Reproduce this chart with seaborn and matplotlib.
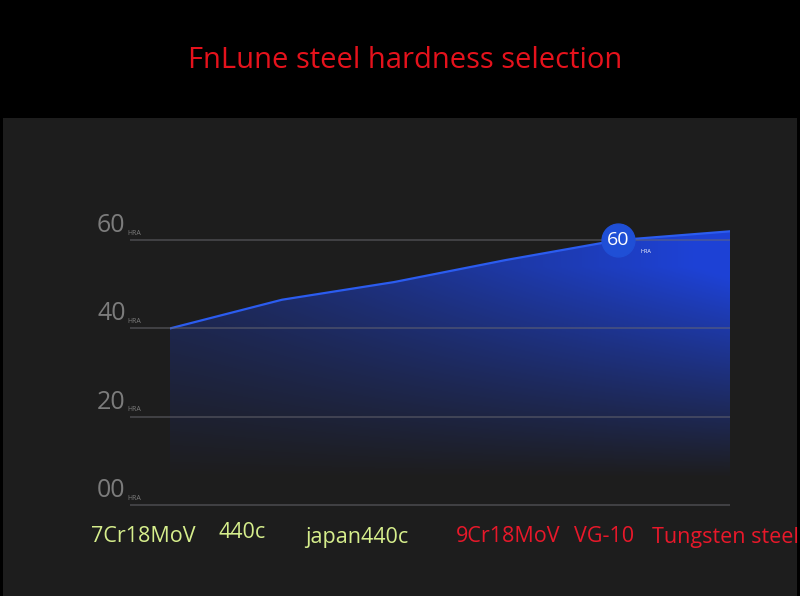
import numpy as np
import pandas as pd
import seaborn as sns
import matplotlib.pyplot as plt
from matplotlib.patches import Rectangle

# данные
steels = ['7Cr18MoV', '440c', 'japan440c', '9Cr18MoV', 'VG-10', 'Tungsten steel']
hardness = [40, 46.5, 50.5, 55.5, 60, 62]
label_colors = ['#d6ee8c', '#d6ee8c', '#d6ee8c', '#e8182a', '#e8182a', '#e8182a']
yticks = [0, 20, 40, 60]
marked = 'VG-10'
marked_value = 60

title = 'FnLune steel hardness selection'

sns.set_theme(style='dark')
plt.rcParams['font.family'] = ['Open Sans', 'DejaVu Sans']

df = pd.DataFrame({'steel': steels, 'hrc': hardness})
df['pos'] = range(len(df))

fig = plt.figure(figsize=(8, 5.96), dpi=100)
fig.patch.set_facecolor('black')
# тёмная панель
fig.patches.append(Rectangle((3 / 800, 0), 794 / 800, 478 / 596, transform=fig.transFigure,
                             facecolor='#1d1d1d', edgecolor='none', zorder=-10))

ax = fig.add_axes([170 / 800, 91 / 596, 560 / 800, 309 / 596])
ax.set_zorder(1)
ax.set_facecolor('none')
for s in ax.spines.values():
    s.set_visible(False)
ax.grid(False)

# заливка с градиентом
poly = ax.fill_between(df.pos, 0, df.hrc, color='none', lw=0)
xs = np.linspace(0, 1, 300)
ys = np.linspace(0, 70, 300)
X, Y = np.meshgrid(xs, ys)
alpha = (0.35 + 0.65 * X ** 1.2) * np.clip((Y - 6) / 48, 0, 1) ** 1.0
alpha = np.clip(alpha, 0, 0.95)
img = np.zeros((300, 300, 4))
img[..., 0] = 0.12
img[..., 1] = 0.27
img[..., 2] = 0.88
img[..., 3] = alpha
im = ax.imshow(img, extent=(0, len(steels) - 1, 0, 70), origin='lower', aspect='auto', zorder=2)
im.set_clip_path(poly.get_paths()[0], transform=ax.transData)

sns.lineplot(data=df, x='pos', y='hrc', ax=ax, color='#2b5cf0', lw=1.6, zorder=3)
ax.set_xlabel('')
ax.set_ylabel('')
ax.set_xticks([])
ax.set_yticks([])
ax.set_xlim(0, len(steels) - 1)
ax.set_ylim(0, 70)

# линии сетки
ax.hlines(yticks, -0.36, len(steels) - 1, colors='#6a6a72', alpha=0.55, lw=1.2,
          clip_on=False, zorder=4)

# метки оси Y
for v in yticks:
    ax.annotate(f'{v:02d}', xy=(0, v), xycoords=('axes fraction', 'data'), xytext=(-32, 1.5),
                textcoords='offset points', ha='right', va='bottom', fontsize=18,
                color='#7c7c7c', annotation_clip=False)
    ax.annotate('HRA', xy=(0, v), xycoords=('axes fraction', 'data'), xytext=(-31, 2.5),
                textcoords='offset points', ha='left', va='bottom', fontsize=5,
                color='#7c7c7c', annotation_clip=False)

# маркер значения
mpos = steels.index(marked)
ax.scatter([mpos], [marked_value], s=560, color='#1f4fd6', zorder=5, clip_on=False)
ax.text(mpos, marked_value, str(marked_value), color='white', fontsize=14,
        ha='center', va='center', zorder=6)
ax.annotate('HRA', xy=(mpos, marked_value), xytext=(16, -8), textcoords='offset points',
            color='white', fontsize=4, ha='left', va='center', zorder=6)

# подписи сталей
label_px = [143, 242, 357, 508, 604, 725]
label_py = [537, 533, 537, 537, 537, 537]
for name, c, px, py in zip(steels, label_colors, label_px, label_py):
    fig.text(px / 800, 1 - py / 596, name, color=c, fontsize=15.5, ha='center', va='center')

fig.text(405 / 800, 1 - 60 / 596, title, color='#e5121c', fontsize=21, ha='center', va='center')

fig.savefig('out.png', dpi=100, facecolor='black')
